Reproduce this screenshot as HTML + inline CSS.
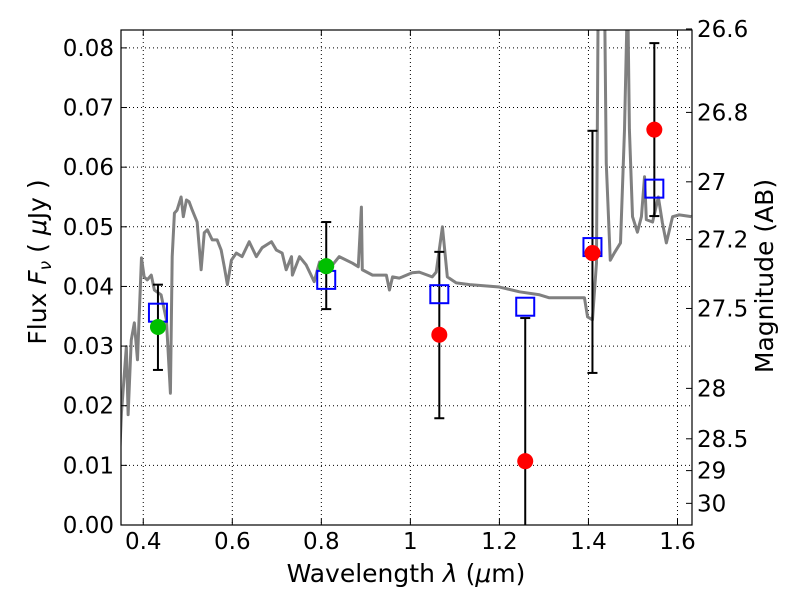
<!DOCTYPE html>
<html><head><meta charset="utf-8"><style>
html,body{margin:0;padding:0;background:#fff;width:800px;height:600px;overflow:hidden;}
svg{display:block;}
svg text{font-family:"DejaVu Sans","Liberation Sans",sans-serif;}
</style></head><body>
<div style="position:relative;width:800px;height:600px">
<svg id="chart" width="800" height="600" xmlns="http://www.w3.org/2000/svg" style="position:absolute;left:0;top:0"></svg>
<svg width="800" height="600" xmlns="http://www.w3.org/2000/svg" style="position:absolute;left:0;top:0;pointer-events:none">
<text x="406" y="582" font-size="25" text-anchor="middle">Wavelength  <tspan font-style="italic">λ</tspan> (<tspan font-style="italic">μ</tspan>m)</text>
<text transform="translate(46,262) rotate(-90)" font-size="25" text-anchor="middle">Flux  <tspan font-style="italic">F</tspan><tspan font-style="italic" font-size="17" dy="5">ν</tspan><tspan dy="-5">  (  </tspan><tspan font-style="italic">μ</tspan>Jy )</text>
<text transform="translate(773,276) rotate(-90)" font-size="25" text-anchor="middle">Magnitude (AB)</text>
</svg>
</div>
<script>
const specLambda=[0.346,0.351,0.362,0.366,0.373,0.380,0.387,0.396,0.402,0.409,0.418,0.425,0.440,0.452,0.461,0.465,0.470,0.476,0.485,0.490,0.497,0.503,0.510,0.521,0.530,0.537,0.544,0.555,0.566,0.575,0.582,0.589,0.598,0.609,0.622,0.638,0.654,0.667,0.688,0.699,0.712,0.721,0.733,0.735,0.751,0.766,0.784,0.796,0.825,0.840,0.870,0.883,0.890,0.892,0.915,0.946,0.953,0.960,0.975,0.982,1.004,1.020,1.049,1.058,1.072,1.083,1.103,1.133,1.200,1.245,1.290,1.312,1.391,1.398,1.409,1.418,1.422,1.436,1.440,1.449,1.458,1.472,1.481,1.488,1.492,1.499,1.510,1.519,1.526,1.530,1.544,1.557,1.566,1.575,1.589,1.604,1.631];
const specFlux=[0.0100,0.0188,0.0299,0.0185,0.0310,0.0339,0.0277,0.0448,0.0416,0.0411,0.0419,0.0394,0.0386,0.0344,0.0221,0.0450,0.0523,0.0528,0.0550,0.0517,0.0545,0.0542,0.0528,0.0508,0.0428,0.0490,0.0495,0.0478,0.0478,0.0461,0.0433,0.0403,0.0444,0.0456,0.0450,0.0475,0.0450,0.0465,0.0475,0.0461,0.0456,0.0428,0.0450,0.0419,0.0450,0.0436,0.0408,0.0441,0.0436,0.0450,0.0439,0.0433,0.0533,0.0428,0.0419,0.0419,0.0394,0.0416,0.0414,0.0416,0.0423,0.0424,0.0416,0.0424,0.0500,0.0416,0.0406,0.0403,0.0399,0.0391,0.0386,0.0381,0.0381,0.0349,0.0344,0.0439,0.0900,0.0900,0.0607,0.0444,0.0456,0.0473,0.0663,0.0900,0.0663,0.0517,0.0491,0.0517,0.0584,0.0512,0.0508,0.0550,0.0507,0.0473,0.0517,0.0520,0.0517];
const obsLambda=[0.433,0.811,1.065,1.258,1.409,1.548];
const obsFlux=[0.0332,0.0434,0.0319,0.0107,0.0456,0.0663];
const obsDetected=[true,true,false,false,false,false];
const errHi=[0.0403,0.0508,0.0458,0.0347,0.0661,0.0808];
const errLo=[0.0260,0.0362,0.0179,-0.005,0.0255,0.0518];
const modelFlux=[0.0356,0.0411,0.0387,0.0366,0.0466,0.0564];
const xTicks=[0.4,0.6,0.8,1.0,1.2,1.4,1.6];
const xTickLabels=["0.4","0.6","0.8","1","1.2","1.4","1.6"];
const yTicks=[0,0.01,0.02,0.03,0.04,0.05,0.06,0.07,0.08];
const magTicks=[26.6,26.8,27,27.2,27.5,28,28.5,29,30];
const magTickLabels=["26.6","26.8","27","27.2","27.5","28","28.5","29","30"];

const L=121,R=692,T=30,B=525;
const X0=0.35,X1=1.6326,Y0=0,Y1=0.0830;
const sx=v=>L+(v-X0)/(X1-X0)*(R-L);
const sy=v=>B-(v-Y0)/(Y1-Y0)*(B-T);
const magToFlux=m=>Math.pow(10,(23.9-m)/2.5);
const svg=document.getElementById('chart');
const NS="http://www.w3.org/2000/svg";
function mk(tag,attrs,parent){const e=document.createElementNS(NS,tag);for(const k in attrs)e.setAttribute(k,attrs[k]);(parent||svg).appendChild(e);return e;}

const defs=mk('defs',{});const cp=mk('clipPath',{id:'pc'},defs);mk('rect',{x:L,y:T,width:R-L,height:B-T},cp);

xTicks.forEach(t=>{const g=mk('line',{x1:sx(t),x2:sx(t),y1:T,y2:B,stroke:'#000','stroke-dasharray':'1,3','stroke-width':1});

});
yTicks.forEach(t=>{const g=mk('line',{x1:L,x2:R,y1:sy(t),y2:sy(t),stroke:'#000','stroke-dasharray':'1,3','stroke-width':1});

});

const pl=mk('polyline',{points:specLambda.map((l,i)=>sx(l)+','+sy(specFlux[i])).join(' '),fill:'none',stroke:'#808080','stroke-width':3,'clip-path':'url(#pc)','stroke-linejoin':'round'});



obsLambda.forEach((l,i)=>{const g=mk('g',{'clip-path':'url(#pc)'});


const x=sx(l);mk('line',{x1:x,x2:x,y1:sy(errHi[i]),y2:sy(errLo[i]),stroke:'#000','stroke-width':2},g);
mk('line',{x1:x-5,x2:x+5,y1:sy(errHi[i]),y2:sy(errHi[i]),stroke:'#000','stroke-width':2},g);
mk('line',{x1:x-5,x2:x+5,y1:sy(errLo[i]),y2:sy(errLo[i]),stroke:'#000','stroke-width':2},g);});

obsLambda.forEach((l,i)=>{const r=mk('rect',{x:sx(l)-9,y:sy(modelFlux[i])-9,width:18,height:18,fill:'none',stroke:'#0000ff','stroke-width':2});

});

obsLambda.forEach((l,i)=>{const c=mk('circle',{cx:sx(l),cy:sy(obsFlux[i]),r:8,fill:obsDetected[i]?'#00bf00':'#ff0000'});

});

const fr=mk('rect',{x:L,y:T,width:R-L,height:B-T,fill:'none',stroke:'#000','stroke-width':1.2});



xTicks.forEach((t,i)=>{const x=sx(t);mk('line',{x1:x,x2:x,y1:B,y2:B-6,stroke:'#000'});mk('line',{x1:x,x2:x,y1:T,y2:T+6,stroke:'#000'});
const tx=mk('text',{x:x,y:B+24,'font-size':23,'text-anchor':'middle'});tx.textContent=xTickLabels[i];

});
yTicks.forEach(t=>{const y=sy(t);mk('line',{x1:L,x2:L+6,y1:y,y2:y,stroke:'#000'});
const tx=mk('text',{x:L-7,y:y+8,'font-size':23,'text-anchor':'end'});tx.textContent=t.toFixed(2);

});
magTicks.forEach((m,i)=>{const y=sy(magToFlux(m));mk('line',{x1:R,x2:R-6,y1:y,y2:y,stroke:'#000'});
const tx=mk('text',{x:R+5,y:y+8,'font-size':23});tx.textContent=magTickLabels[i];

});
</script>
</body></html>
